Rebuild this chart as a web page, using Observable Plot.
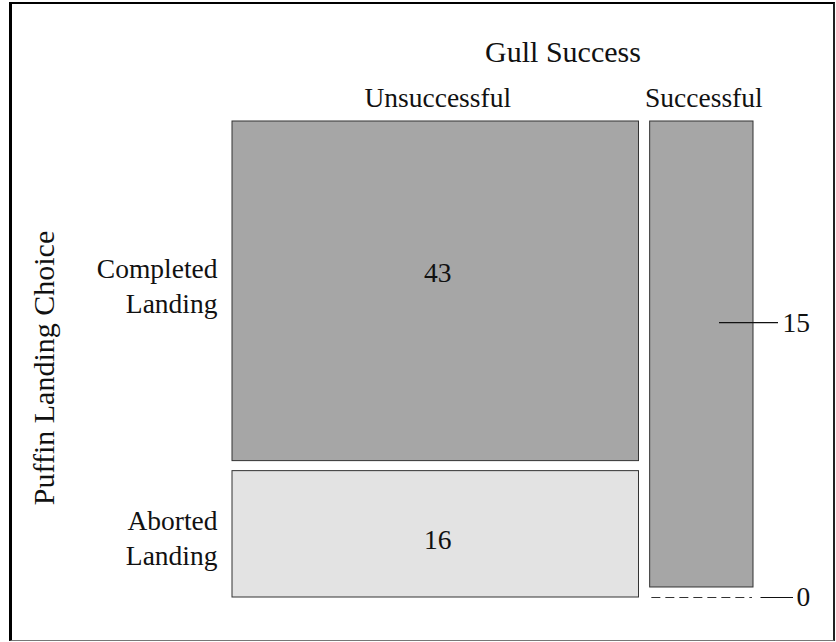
<!DOCTYPE html>
<html><head><meta charset="utf-8">
<script src="https://cdn.jsdelivr.net/npm/d3@7"></script>
<script src="https://cdn.jsdelivr.net/npm/@observablehq/plot@0.6"></script>
<style>
html,body{margin:0;padding:0;background:#fff;}
#wrap{position:relative;width:836px;height:642px;overflow:hidden;}
#frame{position:absolute;left:9px;top:2px;width:826px;height:639px;box-sizing:border-box;pointer-events:none;
  border-left:3px solid #000;border-top:2px solid #000;border-right:2px solid #222;border-bottom:1px solid #777;}
#wrap svg{position:absolute;left:0;top:0;}
</style></head><body><div id="wrap"><div id="frame"></div></div>
<script>
// ---- data ----
const gullSuccess = ["Unsuccessful", "Successful"];
const landingChoice = ["Completed Landing", "Aborted Landing"];
const countsUnsuccessful = [43, 16];
const countsSuccessful = [15, 0];
const columnTitle = "Gull Success";
const rowTitle = "Puffin Landing Choice";

// ---- layout ----
const W = 836, H = 642;
const mL = 232, mR = 83, mT = 121, mB = 45;
const gapX = 1.62;      // gap between columns (count units)
const gapY = 0.0215;    // gap between rows (proportion units)
const grandTotal = d3.sum(countsUnsuccessful) + d3.sum(countsSuccessful);
const xMax = grandTotal + gapX;
const k = (W - mL - mR) / xMax; // px per count unit

const columnCounts = [countsUnsuccessful, countsSuccessful];
const cells = [];
const columns = [];
let cx = 0;
gullSuccess.forEach((g, i) => {
  const counts = columnCounts[i];
  const total = d3.sum(counts);
  const x1 = cx, x2 = cx + total;
  columns.push({name: g, x1, x2, xm: (x1 + x2) / 2});
  let cy = 0;
  landingChoice.forEach((r, j) => {
    const p = counts[j] / total;
    const y1 = cy, y2 = cy + p;
    cells.push({col: g, row: r, count: counts[j], x1, x2, y1, y2, xm: (x1 + x2) / 2, ym: (y1 + y2) / 2, ci: i, ri: j});
    cy = y2 + gapY;
  });
  cx = x2 + gapX;
});

const font = "Liberation Serif, Times New Roman, serif";
const ink = "#111";
const fs = 27.5;   // label font size
const fsT = 30;    // title font size
const cell = (i, j) => cells.filter(c => c.ci === i && c.ri === j);

const chart = Plot.plot({
  width: W, height: H,
  marginLeft: mL, marginRight: mR, marginTop: mT, marginBottom: mB,
  style: {fontFamily: font, color: ink, background: "transparent"},
  x: {domain: [0, xMax], axis: null},
  y: {domain: [0, 1 + gapY], reverse: true, axis: null},
  color: {domain: landingChoice, range: ["#a6a6a6", "#e3e3e3"]},
  marks: [
    Plot.rect(cells.filter(c => c.count > 0), {
      x1: "x1", x2: "x2", y1: "y1", y2: "y2", fill: "row",
      stroke: "#333", strokeWidth: 1
    }),
    Plot.ruleY(cells.filter(c => c.count === 0), {
      y: "y1", x1: d => d.x1 + 1.7 / k, x2: d => d.x2 - 1 / k,
      stroke: "#333", strokeWidth: 1, strokeDasharray: "9,5"
    }),
    // counts inside the unsuccessful column
    Plot.text(cell(0, 0), {x: "xm", y: "ym", text: d => String(d.count), dx: 2, dy: -18, fontSize: fs, fill: ink}),
    Plot.text(cell(0, 1), {x: "xm", y: "ym", text: d => String(d.count), dx: 2, dy: 6, fontSize: fs, fill: ink}),
    // leader label for successful / completed
    Plot.ruleY(cell(1, 0), {y: "ym", x1: d => d.x2 - 34 / k, x2: d => d.x2 + 25 / k, dy: -31.8, stroke: ink, strokeWidth: 1.2}),
    Plot.text(cell(1, 0), {x: "x2", y: "ym", text: d => String(d.count), dx: 29, dy: -31.8, textAnchor: "start", fontSize: fs, fill: ink}),
    // leader label for successful / aborted (zero)
    Plot.ruleY(cell(1, 1), {y: "y1", x1: d => d.x2 + 7.5 / k, x2: d => d.x2 + 40 / k, stroke: ink, strokeWidth: 1.2}),
    Plot.text(cell(1, 1), {x: "x2", y: "y1", text: d => String(d.count), dx: 43, textAnchor: "start", fontSize: fs, fill: ink}),
    // column labels
    Plot.text(columns, {x: "xm", y: () => 0, text: "name", dx: 2, dy: -23, fontSize: fs, fill: ink}),
    // row labels
    Plot.text(cell(0, 0), {x: () => 0, y: "ym", text: d => d.row.replace(" ", "\n"), textAnchor: "end", dx: -15, dy: -7, lineHeight: 1.27, fontSize: fs, fill: ink}),
    Plot.text(cell(0, 1), {x: () => 0, y: "ym", text: d => d.row.replace(" ", "\n"), textAnchor: "end", dx: -15, dy: 2, lineHeight: 1.27, fontSize: fs, fill: ink}),
    // titles
    Plot.text([columnTitle], {frameAnchor: "top", text: d => d, dx: 70, dy: -81, fontSize: fsT, fill: ink}),
    Plot.text([rowTitle], {frameAnchor: "left", textAnchor: "middle", text: d => d, rotate: -90, dx: -188, dy: 8.5, fontSize: fsT, fill: ink})
  ]
});
document.getElementById("wrap").appendChild(chart);
</script>
</body></html>
